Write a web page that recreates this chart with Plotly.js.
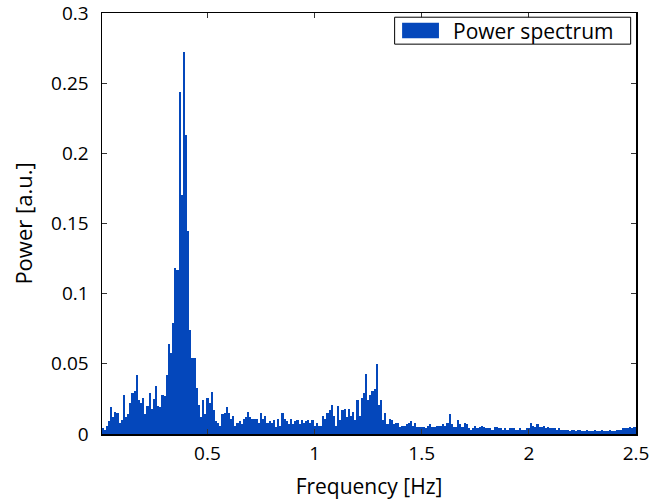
<!DOCTYPE html>
<html>
<head>
<meta charset="utf-8">
<script src="https://cdn.plot.ly/plotly-3.0.1.min.js"></script>
<style>html,body{margin:0;padding:0;background:#fff;}#chart{width:649px;height:503px;}</style>
</head>
<body>
<div id="chart"></div>
<script>
// Frequency bins: first bin and spacing [Hz]
const freqStart = 0.01;
const freqStep = 0.01;
// Power spectrum values [a.u.], one per 0.01 Hz bin (0.01 ... 2.50 Hz)
const power = [
  0.004,0.003,0.006,0.009,0.019,0.012,0.016,0.015,0.008,0.010,
  0.028,0.012,0.014,0.022,0.029,0.031,0.042,0.024,0.022,0.026,
  0.014,0.020,0.029,0.018,0.025,0.034,0.020,0.019,0.028,0.027,
  0.042,0.064,0.058,0.079,0.118,0.117,0.244,0.170,0.272,0.213,
  0.145,0.074,0.054,0.054,0.033,0.021,0.012,0.024,0.014,0.026,
  0.022,0.030,0.017,0.009,0.008,0.006,0.014,0.015,0.019,0.015,
  0.011,0.013,0.006,0.008,0.009,0.007,0.011,0.012,0.016,0.012,
  0.011,0.011,0.011,0.008,0.015,0.011,0.013,0.008,0.009,0.008,
  0.010,0.005,0.011,0.006,0.015,0.011,0.009,0.007,0.011,0.007,
  0.009,0.010,0.007,0.010,0.008,0.009,0.010,0.008,0.010,0.006,
  0.008,0.006,0.006,0.013,0.011,0.015,0.017,0.021,0.013,0.006,
  0.020,0.010,0.017,0.018,0.012,0.018,0.013,0.016,0.010,0.024,
  0.013,0.026,0.029,0.043,0.024,0.028,0.031,0.032,0.050,0.021,
  0.024,0.010,0.015,0.007,0.011,0.010,0.007,0.008,0.008,0.005,
  0.006,0.006,0.007,0.008,0.009,0.006,0.008,0.005,0.005,0.005,
  0.005,0.004,0.006,0.007,0.005,0.005,0.006,0.006,0.006,0.007,
  0.006,0.008,0.014,0.007,0.005,0.005,0.010,0.007,0.005,0.008,
  0.007,0.004,0.003,0.004,0.006,0.004,0.005,0.006,0.005,0.004,
  0.004,0.004,0.003,0.005,0.005,0.004,0.004,0.003,0.004,0.003,
  0.004,0.004,0.004,0.003,0.003,0.004,0.003,0.003,0.004,0.004,
  0.008,0.006,0.005,0.007,0.005,0.005,0.006,0.004,0.005,0.004,
  0.004,0.004,0.003,0.004,0.003,0.003,0.003,0.003,0.002,0.003,
  0.003,0.002,0.003,0.003,0.002,0.002,0.003,0.002,0.002,0.002,
  0.003,0.002,0.002,0.003,0.002,0.002,0.002,0.003,0.002,0.002,
  0.003,0.003,0.003,0.004,0.004,0.004,0.005,0.004,0.005,0.005
];
const xTicks = [0.5, 1, 1.5, 2, 2.5];
const xTickLabels = ['0.5', '1', '1.5', '2', '2.5'];
const yTicks = [0, 0.05, 0.1, 0.15, 0.2, 0.25, 0.3];
const yTickLabels = ['0', '0.05', '0.1', '0.15', '0.2', '0.25', '0.3'];
const seriesName = 'Power spectrum';
const xTitle = 'Frequency [Hz]';
const yTitle = 'Power [a.u.]';

const fillColor = '#0447bb';
const fontFamily = '"Open Sans", "Noto Sans", sans-serif';

const trace = {
  type: 'bar',
  x0: freqStart,
  dx: freqStep,
  y: power,
  name: seriesName,
  marker: {color: fillColor, line: {width: 0}},
  showlegend: false,
  hoverinfo: 'x+y'
};

const axisCommon = {
  showline: true, linecolor: '#000', linewidth: 1.5, mirror: 'ticks',
  ticks: 'inside', ticklen: 5, tickwidth: 1, tickcolor: '#333',
  showgrid: false, zeroline: false,
  ticklabeloverflow: 'allow',
  tickfont: {family: fontFamily, size: 19, color: '#000'}
};

const layout = {
  width: 649, height: 503,
  margin: {l: 102, r: 13, t: 13, b: 69},
  paper_bgcolor: '#fff', plot_bgcolor: '#fff',
  bargap: 0,
  xaxis: Object.assign({}, axisCommon, {
    range: [0.008, 2.5], tickmode: 'array', tickvals: xTicks, ticktext: xTickLabels,
    ticklabelstandoff: 2,
    title: {text: xTitle, standoff: 14, font: {family: fontFamily, size: 21, color: '#000'}}
  }),
  yaxis: Object.assign({}, axisCommon, {
    range: [0, 0.3], tickmode: 'array', tickvals: yTicks, ticktext: yTickLabels,
    ticklabelstandoff: 8,
    title: {text: yTitle, standoff: 12, font: {family: fontFamily, size: 22, color: '#000'}}
  }),
  shapes: [
    {type: 'rect', xref: 'paper', yref: 'paper', x0: 0.548, x1: 0.990, y0: 0.926, y1: 0.990,
     line: {color: '#000', width: 1}, fillcolor: '#fff', layer: 'above'},
    {type: 'rect', xref: 'paper', yref: 'paper', x0: 0.562, x1: 0.631, y0: 0.940, y1: 0.977,
     line: {width: 0}, fillcolor: fillColor, layer: 'above'}
  ],
  annotations: [
    {xref: 'paper', yref: 'paper', x: 0.654, y: 0.958, xanchor: 'left', yanchor: 'middle',
     text: seriesName, showarrow: false, font: {family: fontFamily, size: 21, color: '#000'}}
  ]
};

Plotly.newPlot('chart', [trace], layout, {displayModeBar: false, staticPlot: true});
</script>
</body>
</html>
